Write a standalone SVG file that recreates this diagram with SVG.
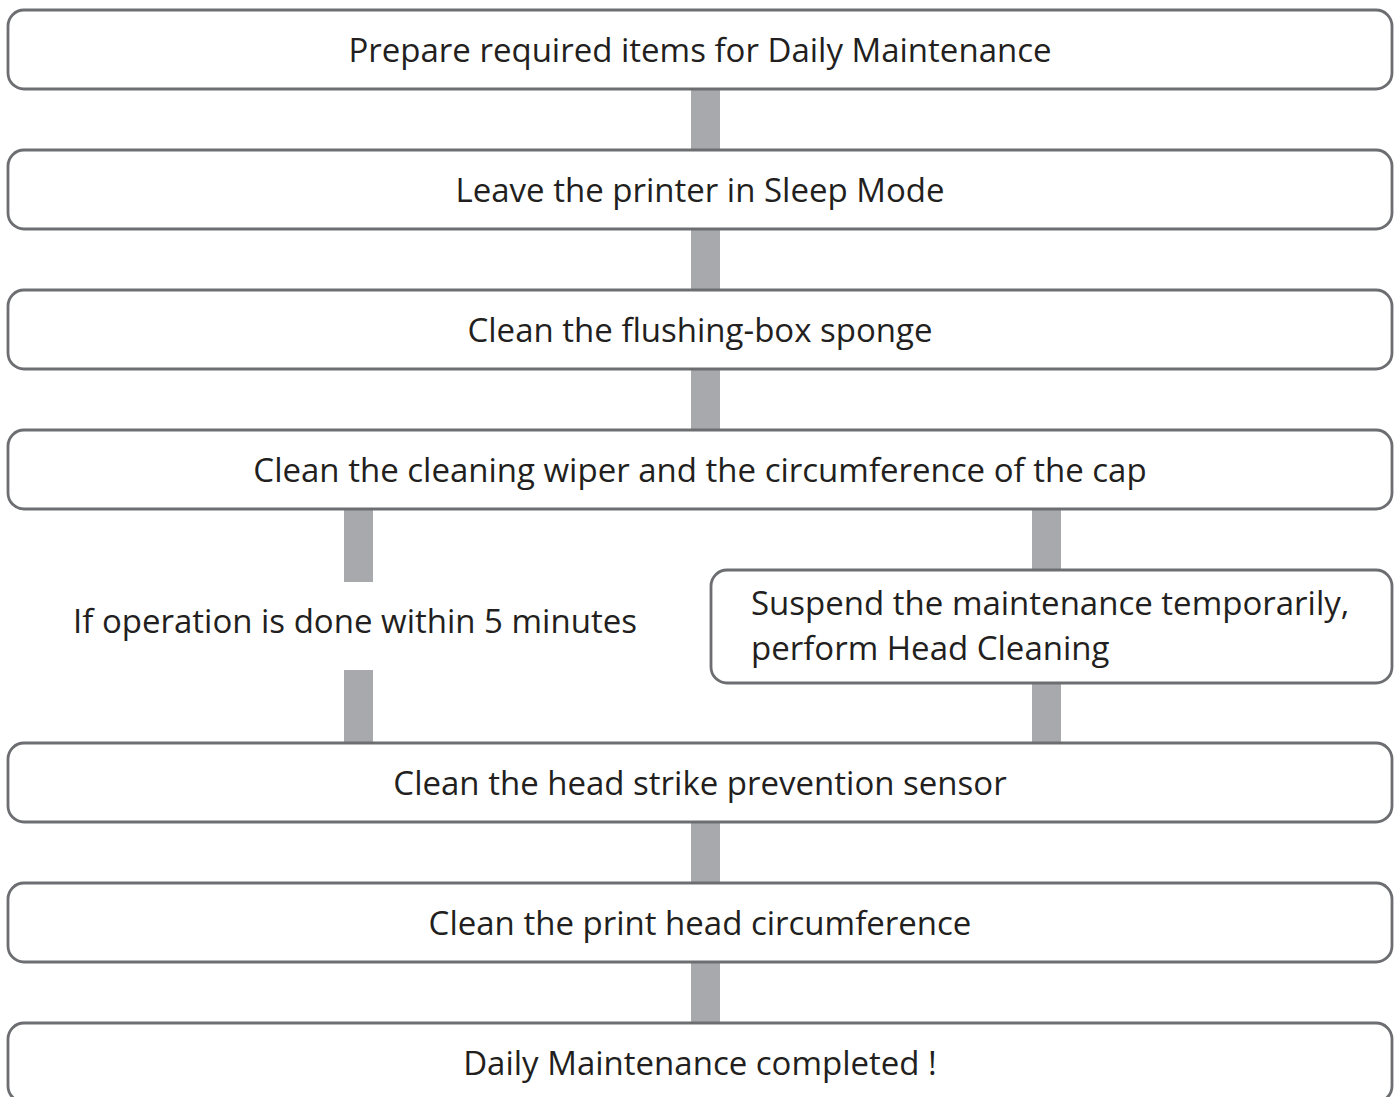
<svg xmlns="http://www.w3.org/2000/svg" width="1399" height="1097" viewBox="0 0 1399 1097">
<style>
.box{fill:#fff;stroke:#6d6e71;stroke-width:2.8}
.con{fill:#a7a9ac}
text{font-family:"Open Sans","Noto Sans",sans-serif;font-size:33px;fill:#231f20}
.c{text-anchor:middle}
</style>
<rect width="1399" height="1097" fill="#fff"/>
<g id="connectors">
<rect class="con" x="691" y="89" width="29" height="61"/>
<rect class="con" x="691" y="229" width="29" height="61"/>
<rect class="con" x="691" y="369" width="29" height="61"/>
<rect class="con" x="344" y="509" width="29" height="73"/>
<rect class="con" x="344" y="670" width="29" height="73"/>
<rect class="con" x="1032" y="509" width="29" height="61"/>
<rect class="con" x="1032" y="683" width="29" height="60"/>
<rect class="con" x="691" y="822" width="29" height="61"/>
<rect class="con" x="691" y="962" width="29" height="61"/>
</g>
<g id="n1"><rect class="box" x="8" y="10" width="1384" height="79" rx="16"/><text class="c" x="700" y="62">Prepare required items for Daily Maintenance</text></g>
<g id="n2"><rect class="box" x="8" y="150" width="1384" height="79" rx="16"/><text class="c" x="700" y="202">Leave the printer in Sleep Mode</text></g>
<g id="n3"><rect class="box" x="8" y="290" width="1384" height="79" rx="16"/><text class="c" x="700" y="342">Clean the flushing-box sponge</text></g>
<g id="n4"><rect class="box" x="8" y="430" width="1384" height="79" rx="16"/><text class="c" x="700" y="482">Clean the cleaning wiper and the circumference of the cap</text></g>
<g id="cond"><text x="73" y="633">If operation is done within 5 minutes</text></g>
<g id="n5"><rect class="box" x="711" y="570" width="681" height="113" rx="16"/><text x="751" y="615">Suspend the maintenance temporarily,</text><text x="751" y="660">perform Head Cleaning</text></g>
<g id="n6"><rect class="box" x="8" y="743" width="1384" height="79" rx="16"/><text class="c" x="700" y="795">Clean the head strike prevention sensor</text></g>
<g id="n7"><rect class="box" x="8" y="883" width="1384" height="79" rx="16"/><text class="c" x="700" y="935">Clean the print head circumference</text></g>
<g id="n8"><rect class="box" x="8" y="1023" width="1384" height="79" rx="16"/><text class="c" x="700" y="1075">Daily Maintenance completed !</text></g>
</svg>
